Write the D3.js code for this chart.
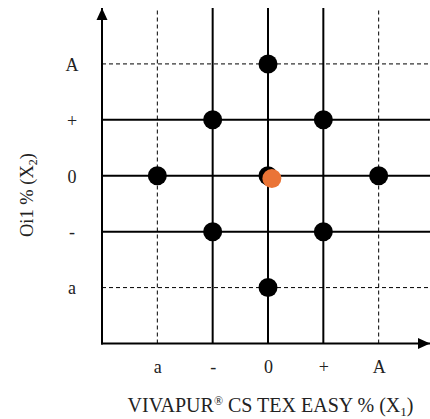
<!DOCTYPE html>
<html>
<head>
<meta charset="utf-8">
<script src="https://cdn.jsdelivr.net/npm/d3@7"></script>
<style>
  html, body { margin: 0; padding: 0; background: #fff; }
  svg { display: block; }
  text { font-family: "Liberation Serif", "DejaVu Serif", serif; fill: #222; }
</style>
</head>
<body>
<svg id="chart" width="430" height="419"></svg>
<script>
// Coded factor levels of the central composite design and their labels
const levels = [-2, -1, 0, 1, 2];
const x1Labels = ["a", "-", "0", "+", "A"];
const x2Labels = ["a", "-", "0", "+", "A"];

// Design runs (coded X1, X2)
const runX1 = [0, -1, 1, -2, 0, 2, -1, 1, 0];
const runX2 = [2, 1, 1, 0, 0, 0, -1, -1, -2];

// Optimised formulation (coded X1, X2)
const optX1 = [0.07];
const optX2 = [-0.05];

const svg = d3.select("#chart");

const x = d3.scaleLinear().domain([-3, 3]).range([102, 434]);
const y = d3.scaleLinear().domain([-3, 3]).range([343.5, 8]);
const xEnd = 430, yTop = 8;

// Arrow heads
const defs = svg.append("defs");
defs.append("marker")
  .attr("id", "arrow")
  .attr("viewBox", "0 0 12 12")
  .attr("refX", 12).attr("refY", 6)
  .attr("markerWidth", 12).attr("markerHeight", 12)
  .attr("markerUnits", "userSpaceOnUse")
  .attr("orient", "auto")
  .append("path").attr("d", "M0,0.5 L12,6 L0,11.5 Z").attr("fill", "#000");

// Grid lines: axial levels dashed, factorial/centre levels solid
const isAxial = v => Math.abs(v) === 2;
const grid = svg.append("g");
grid.selectAll("line.v").data(levels).join("line")
  .attr("class", "v")
  .attr("x1", d => x(d)).attr("x2", d => x(d))
  .attr("y1", y(-3)).attr("y2", yTop)
  .attr("stroke", "#000")
  .attr("stroke-width", d => isAxial(d) ? 1 : 2)
  .attr("stroke-dasharray", d => isAxial(d) ? "4,3" : null);
grid.selectAll("line.h").data(levels).join("line")
  .attr("class", "h")
  .attr("x1", x(-3)).attr("x2", xEnd)
  .attr("y1", d => y(d)).attr("y2", d => y(d))
  .attr("stroke", "#000")
  .attr("stroke-width", d => isAxial(d) ? 1 : 2)
  .attr("stroke-dasharray", d => isAxial(d) ? "4,3" : null);

// Axis lines with arrows
svg.append("line")
  .attr("x1", x(-3) - 1).attr("x2", xEnd)
  .attr("y1", y(-3)).attr("y2", y(-3))
  .attr("stroke", "#000").attr("stroke-width", 2)
  .attr("marker-end", "url(#arrow)");
svg.append("line")
  .attr("x1", x(-3)).attr("x2", x(-3))
  .attr("y1", y(-3) + 1).attr("y2", yTop)
  .attr("stroke", "#000").attr("stroke-width", 2)
  .attr("marker-end", "url(#arrow)");

// Tick labels
const fs = 18;
const xAxis = d3.axisBottom(x)
  .tickValues(levels)
  .tickFormat((d, i) => x1Labels[i])
  .tickSize(0);
const gx = svg.append("g").attr("transform", `translate(0,${y(-3)})`).call(xAxis);
gx.select(".domain").remove();
gx.selectAll("text")
  .attr("y", 29.5).attr("dy", null)
  .attr("font-size", fs)
  .attr("font-family", "Liberation Serif, serif")
  .attr("fill", "#222");

const yAxis = d3.axisLeft(y)
  .tickValues(levels)
  .tickFormat((d, i) => x2Labels[i])
  .tickSize(0);
const gy = svg.append("g").attr("transform", `translate(${x(-3)},0)`).call(yAxis);
gy.select(".domain").remove();
gy.selectAll("text")
  .attr("x", -30).attr("dy", "0.35em")
  .attr("text-anchor", "middle")
  .attr("font-size", fs)
  .attr("font-family", "Liberation Serif, serif")
  .attr("fill", "#222");

// Axis titles
const xt = svg.append("text")
  .attr("x", 270.5).attr("y", 412)
  .attr("text-anchor", "middle")
  .attr("font-size", 20);
xt.append("tspan").text("VIVAPUR");
xt.append("tspan").attr("font-size", 12).attr("dy", -7).text("®");
xt.append("tspan").attr("dy", 7).text(" CS TEX EASY % (X");
xt.append("tspan").attr("font-size", 13).attr("dy", 4).text("1");
xt.append("tspan").attr("dy", -4).text(")");

const yt = svg.append("text")
  .attr("transform", "translate(33,195) rotate(-90)")
  .attr("text-anchor", "middle")
  .attr("font-size", 18.5);
yt.append("tspan").text("Oi1 % (X");
yt.append("tspan").attr("font-size", 12).attr("dy", 4).text("2");
yt.append("tspan").attr("dy", -4).text(")");

// Design points
svg.append("g").selectAll("circle").data(runX1).join("circle")
  .attr("cx", d => x(d))
  .attr("cy", (d, i) => y(runX2[i]))
  .attr("r", 9.5)
  .attr("fill", "#000");

// Optimum
svg.append("g").selectAll("circle").data(optX1).join("circle")
  .attr("cx", d => x(d))
  .attr("cy", (d, i) => y(optX2[i]))
  .attr("r", 9.5)
  .attr("fill", "#EA7436");
</script>
</body>
</html>
